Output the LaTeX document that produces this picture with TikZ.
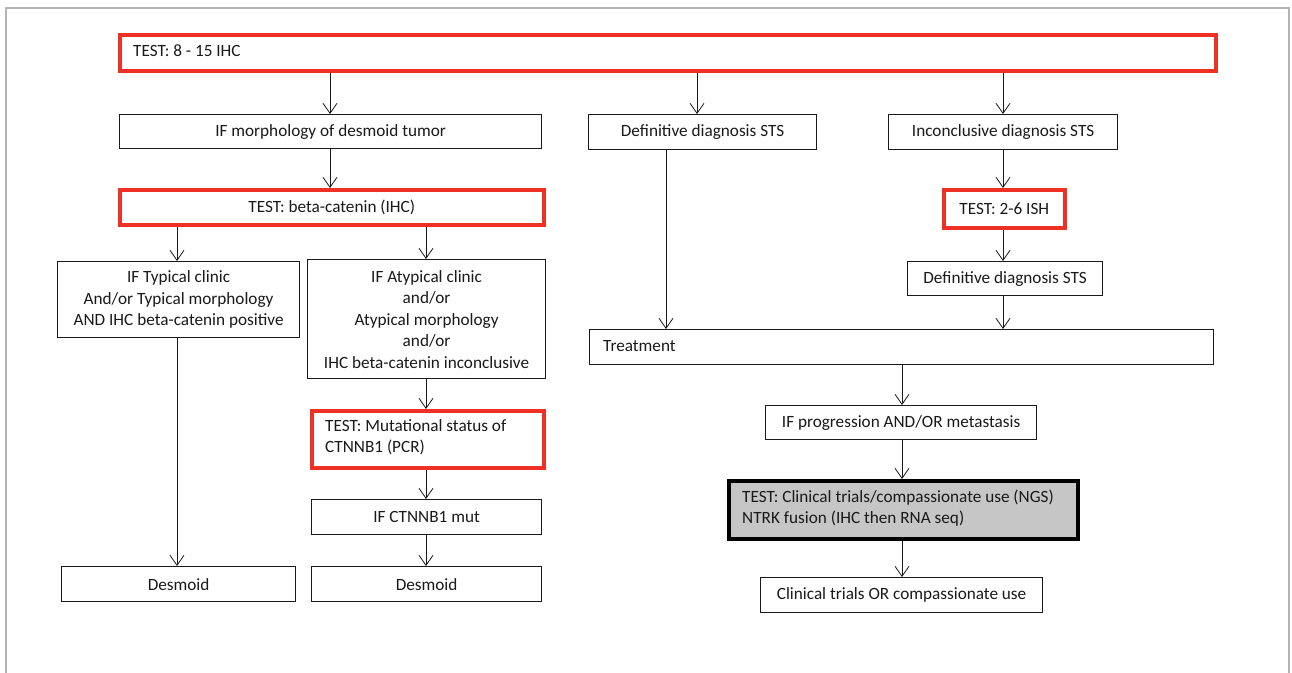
\documentclass[tikz,border=0pt]{standalone}
\usepackage{fontspec}
\setmainfont{Carlito}
\usetikzlibrary{arrows.meta}
\definecolor{testred}{HTML}{EE3124}
\definecolor{ngsgray}{HTML}{C6C6C6}
\definecolor{framegray}{HTML}{B4B4B4}
\definecolor{ink}{HTML}{1A1A1A}
% box given by its corners: name, style, x1, y1, x2, y2, text
\newcommand{\flowbox}[7]{%
  \pgfmathsetmacro{\bw}{#5-#3}\pgfmathsetmacro{\bh}{#6-#4}%
  \node[#2, minimum width=\bw pt, minimum height=\bh pt, anchor=north west] (#1) at (#3,#4) {#7};}
\tikzset{
  plain/.style={draw=ink, line width=1.2pt, fill=white, inner sep=0pt, align=center, text=ink},
  testbox/.style={plain, draw=testred, line width=3.6pt},
  ngsbox/.style={plain, draw=black, line width=3.6pt, fill=ngsgray},
  arr/.style={draw=ink, line width=0.8pt, -{Straight Barb[length=10pt,width=14pt,line width=0.8pt]}},
}
\begin{document}
\begin{tikzpicture}[x=1pt, y=-1pt, font=\fontsize{17.2}{21.5}\selectfont]
\useasboundingbox (0,0) rectangle (1292,672);
\clip (0,0) rectangle (1292,672);
\fill[white] (0,0) rectangle (1292,672);
% page frame
\draw[framegray, line width=1.5pt] (6,690) -- (6,8) -- (1289,8) -- (1289,690);

% first test, full width
\flowbox{top}{testbox}{118}{33}{1214}{69}{}
\node[anchor=west, inner sep=0pt, text=ink] (toptxt) at (133,51) {TEST: 8 - 15 IHC};

% second row
\flowbox{morph}{plain}{119}{114}{541}{148}{IF morphology of desmoid tumor}
\flowbox{def1}{plain}{588}{114}{816}{149}{Definitive diagnosis STS}
\flowbox{inc}{plain}{888}{114}{1117}{149}{Inconclusive diagnosis STS}

% third row
\flowbox{beta}{testbox}{118}{188}{542}{223}{TEST: beta-catenin (IHC)}
\flowbox{ish}{testbox}{942}{188}{1063}{226}{TEST: 2-6 ISH}

% desmoid branches
\flowbox{typ}{plain}{57}{261}{299}{337}{IF Typical clinic\\And/or Typical morphology\\AND IHC beta-catenin positive}
\flowbox{atyp}{plain}{307}{259}{545}{378}{IF Atypical clinic\\and/or\\Atypical morphology\\and/or\\IHC beta-catenin inconclusive}
\flowbox{def2}{plain}{907}{261}{1102}{295}{Definitive diagnosis STS}

% treatment
\flowbox{treat}{plain}{589}{329}{1213}{364}{}
\node[anchor=west, inner sep=0pt, text=ink] (treattxt) at (603,346.5) {Treatment};

% mutational test
\flowbox{mut}{testbox}{310}{409}{542}{466}{}
\node[anchor=west, inner sep=0pt, text=ink, align=left] (muttxt) at (325,437) {TEST: Mutational status of\\CTNNB1 (PCR)};

\flowbox{prog}{plain}{765}{405}{1036}{439}{IF progression AND/OR metastasis}
\flowbox{ctmut}{plain}{311}{499}{541}{534}{IF CTNNB1 mut}

% NGS test
\flowbox{ngs}{ngsbox}{727}{479}{1076}{537}{}
\node[anchor=west, inner sep=0pt, text=ink, align=left] (ngstxt) at (742,508) {TEST: Clinical trials/compassionate use (NGS)\\NTRK fusion (IHC then RNA seq)};

% outcomes
\flowbox{desL}{plain}{61}{566}{295}{601}{Desmoid}
\flowbox{desR}{plain}{311}{566}{541}{601}{Desmoid}
\flowbox{ct}{plain}{760}{577}{1042}{612}{Clinical trials OR compassionate use}

% connector columns
\coordinate (c177) at (177,0);
\coordinate (c330) at (330,0);
\coordinate (c426) at (426,0);
\coordinate (c666) at (666,0);
\coordinate (c697) at (697,0);
\coordinate (c902) at (902,0);
\coordinate (c1003) at (1003,0);

\draw[arr] (top.south -| c330) -- (morph.north -| c330);
\draw[arr] (top.south -| c697) -- (def1.north -| c697);
\draw[arr] (top.south -| c1003) -- (inc.north -| c1003);
\draw[arr] (morph.south -| c330) -- (beta.north -| c330);
\draw[arr] (beta.south -| c177) -- (typ.north -| c177);
\draw[arr] (beta.south -| c426) -- (atyp.north -| c426);
\draw[arr] (typ.south -| c177) -- (desL.north -| c177);
\draw[arr] (atyp.south -| c426) -- (mut.north -| c426);
\draw[arr] (mut.south -| c426) -- (ctmut.north -| c426);
\draw[arr] (ctmut.south -| c426) -- (desR.north -| c426);
\draw[arr] (def1.south -| c666) -- (treat.north -| c666);
\draw[arr] (inc.south -| c1003) -- (ish.north -| c1003);
\draw[arr] (ish.south -| c1003) -- (def2.north -| c1003);
\draw[arr] (def2.south -| c1003) -- (treat.north -| c1003);
\draw[arr] (treat.south -| c902) -- (prog.north -| c902);
\draw[arr] (prog.south -| c902) -- (ngs.north -| c902);
\draw[arr] (ngs.south -| c902) -- (ct.north -| c902);
\end{tikzpicture}
\end{document}
